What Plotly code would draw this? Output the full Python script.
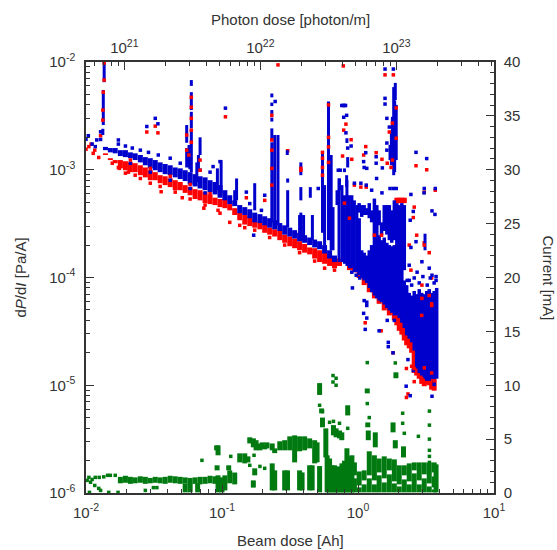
import numpy as np
import plotly.graph_objects as go

# Values. Doses in Ah, dP/dI in 1e-3 Pa/A, current in mA.
band_dose = [.0139,.0151,.0164,.0179,.0195,.0212,.0230,.0251,.0273,.0297,.0323,.0351,.0382,.0416,.0453,.0493,
             .0536,.0583,.0634,.0690,.0751,.0817,.0889,.0967,.105,.114,.124,.135,.147,.160,.174,.190,.206,.224,
             .244,.266,.289,.315,.342,.372,.405,.441,.480,.522,.568,.618,.672]
blue_band_top = [1.63,1.59,1.59,1.52,1.52,1.45,1.42,1.37,1.31,1.28,1.23,1.17,1.13,1.10,1.05,1.03,.99,.95,.91,.87,.85,.80,
                 .77,.72,.646,.58,.52,.47,.45,.43,.40,.387,.37,.355,.34,.32,.305,.29,.275,.26,.247,.235,.225,.217,.20,.179,.16]
blue_band_bottom = [1.52,1.45,1.42,1.34,1.31,1.28,1.23,1.17,1.10,1.03,.99,.95,.91,.89,.85,.82,.785,.73,.70,.67,.646,.62,
                    .59,.55,.52,.48,.46,.395,.38,.355,.325,.32,.305,.29,.28,.27,.25,.24,.23,.217,.21,.20,.19,.183,.167,.15,.139]
red_band_top = [1.42,1.28,1.23,1.23,1.20,1.17,1.15,1.10,1.05,.99,.95,.89,.87,.83,.80,.77,.72,.69,.66,.646,.62,.59,.55,.535,
                .535,.48,.44,.40,.38,.365,.345,.325,.31,.29,.28,.27,.25,.24,.23,.217,.205,.19,.187,.179,.17,.16,.15]
red_band_bottom = [1.37,1.23,1.15,1.03,.99,.95,.95,.89,.85,.80,.80,.75,.72,.69,.646,.646,.61,.58,.535,.52,.49,.48,.47,.45,
                   .44,.42,.38,.34,.31,.30,.29,.28,.26,.25,.24,.222,.21,.195,.187,.179,.17,.164,.15,.139,.134,.128,.122]

red_tail_dose = [.731,.865,.941,1.02,1.11,1.21,1.32,1.43,1.56,1.70,1.85,1.93,2.01,2.10,2.19,2.28,2.38,2.48,2.59,2.70,2.82,
                 2.94,3.07,3.20,3.34,3.48,3.63,1.93,2.01,2.10,2.19]
red_tail_top = [.15,.139,.13,.122,.112,.094,.085,.076,.064,.059,.051,.049,.047,.042,.036,.032,.031,.026,.0235,.021,.017,
                .0137,.013,.012,.0123,.0115,.0115,.55,.55,.55,.55]
red_tail_bottom = [.128,.117,.112,.099,.085,.073,.064,.057,.0495,.0445,.04,.036,.032,.0295,.026,.0235,.022,.02,.013,.0123,
                   .0115,.0103,.0098,.0103,.01,.0091,.0089,.49,.49,.49,.49]

blue_spike_dose = [.0136,.0134,.0133,.055,.055,.0572,.0595,.0595,.0595,.0595,.069,.0671,.0653,.0985,.0925,.128,.124,.174,
                   .2325,.2325,.2325,.2325,.2325,.2325,.244,.258,.304,.304,.302,.38,.38,.38,.372,.398,.446,.462,.548,.568,
                   .607,.635,.655,.701,.725,.762,.795,.829,.865,.902,.941,.981,1.83,1.88,1.79,1.72,1.91,.829,.84,.825,.731,.795,3.11,
                   1.86,1.76]
blue_spike_top = [10,5.5,2.4,2.6,1.59,1.70,6.8,5.25,3.45,2.33,2.0,1.37,1.17,1.23,1.03,.83,.646,.75,
                  5.1,4.2,3.58,3.05,2.42,1.8,2.1,2.1,.83,.646,1.52,1.17,.69,.40,.38,.38,.69,.38,1.45,.72,
                  4.3,1.37,.45,.646,.83,.72,.58,.80,.58,.58,.52,.47,5.85,6.4,3.1,1.70,4.0,1.96,1.31,.89,.83,1.03,.255,
                  4.4,2.3]
blue_spike_bottom = [6.5,2.6,2.1,1.78,1.05,1.05,6.0,3.58,2.42,.95,1.37,.99,.77,.60,.646,.52,.47,.42,
                     4.7,3.9,3.3,2.8,1.89,.325,.325,.305,.76,.29,1.37,.89,.52,.222,.222,.222,.55,.222,.26,.20,
                     .222,.179,.179,.47,.139,.139,.134,.128,.122,.122,.112,.112,.89,4.44,1.23,1.23,1.23,1.77,1.05,.69,.646,.95,.179,
                     .95,1.1]

blue_mass_dose = [1.02,1.02,1.065,1.065,1.11,1.11,1.16,1.16,1.21,1.21,1.26,1.26,1.32,1.375,1.43,1.43,1.49,1.49,1.56,1.56,
                  1.63,1.63,1.70,1.70,1.77,1.77,1.85,1.85,1.93,2.01,2.10,2.19,2.19,2.28,2.38,2.48,2.59,2.70,2.82,2.94,
                  3.07,3.20,3.34,3.48,3.63,3.79]
blue_mass_top = [.49,.355,.47,.179,.47,.17,.44,.16,.49,.179,.42,.20,.54,.47,.42,.247,.325,.222,.47,.235,
                 .47,.21,.47,.20,.42,.195,.52,.2,.49,.47,.49,.47,.094,.085,.072,.068,.075,.07,.078,.072,
                 .07,.075,.078,.072,.075,.08]
blue_mass_bottom = [.40,.105,.365,.099,.38,.094,.38,.089,.355,.08,.325,.073,.068,.064,.305,.061,.247,.059,.27,.056,
                    .25,.052,.222,.0495,.21,.047,.222,.0445,.0445,.042,.038,.117,.034,.029,.027,.025,.021,.0143,.013,.0123,
                    .0115,.011,.011,.0115,.0098,.0115]

blue_point_dose = [.0100,.0104,.0111,.012,.0128,.0117,.0128,.0173,.028,.0323,.0338,.086,.0967,.106,.151,.16,.206,.195,.246,
                   .51,.716,.78,.76,.78,.795,.81,.825,.785,.815,.84,.89,.74,1.14,1.10,1.11,1.16,1.36,1.36,1.51,
                   1.58,1.82,1.58,1.58,1.63,1.70,1.63,1.63,2.67,3.2,1.37,.941,1.05,1.15,1.72,1.82,1.91,3.07,3.7,
                   2.45,2.55,2.42,3.06,3.5,3.68,2.45,2.67,2.38,2.38,2.95,3.5,3.75,1.26,1.5,
                   1.10,1.16,1.16,1.13,1.43,1.64,1.85,1.67,1.67,1.81,2.26,2.42,3.5,2.55,2.33,
                   .90,.97,1.03,.91,1.11,1.16,
                   .0173,.0195,.0219,.0251,.0288,.034,.0416,.0493,.0583,.069,.0817,
                   .0212,.0297,.0416,.0583,.0751,.171,
                   2.3,2.48,2.59,2.82,3.0,3.23,3.4,3.63,3.75,2.72,3.34]
blue_point_value = [1.92,2.07,1.73,1.89,1.91,1.64,2.25,1.89,2.52,3.0,2.67,1.07,1.19,3.73,.62,.485,.58,.42,4.3,
                    .67,.99,10,3.95,3.95,3.95,3.95,3.2,3.07,2.2,1.59,1.66,.99,1.44,1.19,1.05,1.03,1.32,1.15,1.04,
                    8.6,8.6,4.6,4.07,3.0,2.49,1.77,1.52,1.45,1.27,.83,.75,.75,.72,.67,.67,.67,.67,.67,
                    .59,.41,.34,.61,.415,.385,.19,.215,.13,.094,.14,.105,.094,.646,.61,
                    .0465,.055,.042,.033,.032,.04,.04,.025,.0228,.020,.0098,.008,.0079,.0137,.0173,
                    .112,.105,.099,.08,.061,.059,
                    1.73,1.66,1.59,1.52,1.45,1.37,1.28,1.15,1.05,.99,.95,
                    1.15,.95,.80,.67,.61,.247,
                    .094,.085,.099,.089,.102,.085,.099,.089,.102,.112,.122]

red_point_dose = [.0100,.0105,.0109,.0113,.0116,.0124,.0128,.0173,.028,.0323,.0338,.106,.0176,.0205,.023,.0357,.051,.0735,
                  .151,.206,.258,.304,.78,.785,.815,.89,.90,.77,1.14,1.10,1.36,1.5,1.64,1.58,1.82,2.67,3.2,.94,1.05,1.15,3.07,3.7,
                  2.59,2.55,2.7,2.38,3.07,3.34,2.45,3.48,2.3,1.48,1.81,1.13,2.33,2.27,2.27,2.48,2.59,
                  .0156,.0195,.0251,.0297,.0351,.0453,.0583,.0751,.0935,.147,.174,.224,.289,.372,.48,.568,.672,.114,.0967,.135]
red_point_value = [1.55,1.64,1.73,1.42,1.52,1.30,2.07,1.05,2.24,2.54,2.2,3.1,1.03,.95,.89,.625,.55,.44,
                   .55,.52,9.4,1.5,9.2,2.33,2.65,1.9,1.25,1.34,1.64,1.37,1.44,1.25,1.15,7.6,7.6,1.09,1.0,.72,.69,.69,.62,.646,
                   .45,.36,.247,.2,.21,.17,.117,.099,.061,.032,.02,.038,.0083,.0077,.0143,.015,.0108,
                   1.15,.93,.83,.75,.70,.62,.535,.47,.42,.29,.275,.235,.20,.17,.142,.122,.117,.325,.395,.305]

red_top_dose = [.0136,.0136,.0134,.0133,.0133,.0595,.0595,.0595,.0595,.0595,.057,.055,.055,.069,.069,
                .2325,.2325,.2325,.2325,.2325,.548,.548,.548,.548,.607,.607,.607,.607,.38,.38,
                1.91,1.79,1.70,1.91,1.79,1.75,.795,.865,1.32,1.49,3.07,2.95,3.34,3.48,2.95,
                2.94,3.48,2.59,3.07,3.48,3.63,2.94,
                .0212,.0297,.0416,.0583,.0817]
red_top_value = [9.8,6.8,5.25,3.58,2.89,4.7,3.8,3.0,2.33,1.8,1.37,2.1,1.52,1.23,.99,
                 3.2,1.89,1.52,1.03,.72,1.28,1.05,.89,1.45,4.0,2.0,1.63,1.17,.99,1.03,
                 3.75,2.71,2.24,1.96,1.23,1.05,.49,.355,.247,.247,.20,.085,.068,.055,.064,
                 .0445,.057,.0143,.0145,.013,.011,.0115,
                 1.23,1.03,.87,.73,.60]

green_band_dose = [.0179,.0195,.0212,.0230,.0251,.0273,.0297,.0323,.0351,.0382,.0416,.0453,.0493,.0536,.0583,.0634,.0690,.0751,.0817,.0889]
green_band_high = [1.5,1.6,1.5,1.45,1.55,1.5,1.4,1.5,1.45,1.5,1.6,1.55,1.5,1.45,1.4,1.45,1.5,1.5,1.6,1.55]
green_band_low = [.9,.95,.85,.9,.95,.85,.9,.95,.9,.85,.95,.9,.85,.9,.8,.85,.8,.85,.9,.85]

green_span_dose = [.0536,.0583,.0662,.0935,.1,.105,.114,.124,.0913,.0935,.092,.112,.135,.147,.155,.16,.17,.178,.19,.206,.174,.17,
                   .198,.214,.234,.244,.266,.289,.315,.342,.372,.405,.441,.234,.244,.289,.303,.372,.388,.441,.46,.48,.50,.522,
                   .522,.54,.548,.58,.593,.618,.645,.672,.66,.69,.731,.76,.701,.731,.762,.795,.829,.829,.865,.902,
                   .941,.941,1.02,1.02,1.11,1.11,1.21,1.21,1.32,1.32,1.43,1.43,1.56,1.56,1.70,1.70,1.85,1.85,2.01,2.01,
                   2.19,2.19,2.38,2.38,2.59,2.59,2.82,2.82,3.07,3.07,3.34,3.34,3.63,3.63,3.63,3.75,
                   .84,1.17,1.18,1.19,1.34,1.9,1.81,1.88,2.16]
green_span_high = [.9,.9,.9,1.64,1.45,1.64,2.1,1.9,4.42,4.42,2.57,2.57,3.68,3.68,3.4,5.17,5.07,4.9,4.6,4.42,2.29,1.17,
                   4.7,4.7,4.6,4.14,4.8,4.9,5.26,5.35,5.26,5.26,5.07,2.75,2.1,2.1,2.1,2.1,1.91,2.57,2.57,4.9,4.7,2.5,
                   10.2,7.85,7.0,6.0,3.5,3.2,2.57,2.57,6.3,6.0,5.8,5.63,2.38,2.47,2.75,3.0,4.15,2.85,3.4,3.5,
                   2.84,1.36,2.0,.52,2.1,.8,3.87,1.36,3.5,.8,3.2,1.64,3.4,.98,3.2,1.73,3.12,.89,2.57,.61,
                   2.57,1.26,2.75,.8,2.84,1.82,2.84,.8,2.84,1.36,2.84,.61,2.84,1.54,.33,2.66,
                   8.14,9.7,6.55,5.8,5.63,11.2,6.55,4.9,4.33]
green_span_low = [.06,.06,.06,.06,.06,.24,.9,.8,3.96,3.5,2.1,2.1,2.84,2.75,2.84,4.6,4.24,3.96,3.96,4.05,1.64,.5,
                  4.14,4.14,3.96,3.7,3.96,3.96,3.96,2.84,3.87,3.96,4.14,.24,.24,.24,.24,.24,.24,.24,.24,2.75,2.85,.06,
                  9.1,7.4,6.1,3.3,.06,.06,.06,.06,5.35,5.17,5.07,4.9,.06,.06,.06,.06,2.33,.06,.06,.06,
                  1.64,.06,.7,.06,1.17,.06,1.64,.06,1.17,.06,1.91,.06,1.36,.06,2.1,.06,1.08,.06,.8,.06,
                  1.64,.06,1.08,.06,2.1,.06,1.17,.06,1.73,.06,.89,.06,1.91,.52,.06,.06,
                  7.2,9.25,6.1,4.9,4.24,10.65,5.63,4.14,3.3]

green_point_dose = [.0102,.0105,.0111,.0117,.0125,.0135,.0144,.0151,.0164,.0108,.0116,.0124,.0128,.0106,.0172,.0147,
                    .0273,.0313,.0332,.0712,.116,.172,.16,.19,.206,.655,.69,.69,.655,.84,1.17,1.17,1.21,1.88,
                    2.13,2.13,2.19,2.78,3.35,3.35,3.35,3.35,3.35,3.35,.618,.66,.731,.522,.548]
green_point_value = [1.17,1.45,1.26,1.45,1.45,1.5,1.64,1.64,1.64,1.0,.7,.43,.24,.06,.06,.06,
                     .24,.5,.5,3.03,3.4,3.5,2.57,2.47,2.29,10.9,10.65,10.0,10.3,6.0,12.1,8.3,7.0,12.07,
                     7.4,6.47,5.54,5.26,7.6,6.3,5.0,3.96,3.4,2.84,6.56,6.65,6.47,8.14,7.55]

x_tick_values = [0.01, 0.1, 1, 10]
x_tick_labels = ["10<sup>-2</sup>", "10<sup>-1</sup>", "10<sup>0</sup>", "10<sup>1</sup>"]
y_tick_values = [1e-6, 1e-5, 1e-4, 1e-3, 1e-2]
y_tick_labels = ["10<sup>-6</sup>", "10<sup>-5</sup>", "10<sup>-4</sup>", "10<sup>-3</sup>", "10<sup>-2</sup>"]
photon_tick_values = [1e21, 1e22, 1e23]
photon_tick_labels = ["10<sup>21</sup>", "10<sup>22</sup>", "10<sup>23</sup>"]
log_minor_steps = [2, 3, 4, 5, 6, 7, 8, 9]

BLUE, RED, GREEN = "#0000cc", "#ff0000", "#007a10"
MILLI = 1e-3
INK = "#333333"
FONT = "Liberation Sans"


def spans(xs, tops, bottoms, scale=1.0):
    px, py = [], []
    for x, t, b in zip(xs, tops, bottoms, strict=True):
        px += [x, x, None]
        py += [t * scale, b * scale, None]
    return px, py


def span_trace(xs, tops, bottoms, color, width, yaxis="y", scale=1.0):
    px, py = spans(xs, tops, bottoms, scale)
    return go.Scatter(x=px, y=py, mode="lines", yaxis=yaxis, showlegend=False, hoverinfo="skip",
                      line=dict(color=color, width=width))


def point_trace(xs, ys, color, yaxis="y", scale=1.0):
    return go.Scatter(x=xs, y=(np.array(ys, dtype=float) * scale).tolist(), mode="markers", yaxis=yaxis, showlegend=False,
                      cliponaxis=False, hoverinfo="skip",
                      marker=dict(symbol="square", size=3.5, color=color, line=dict(width=0)))


def log_minor(decades):
    return dict(tickvals=[s * d for d in decades for s in log_minor_steps], ticks="inside", ticklen=4,
                tickwidth=1, tickcolor="#333333", showgrid=False)


fig = go.Figure()
fig.add_trace(go.Scatter(x=photon_tick_values, y=[None, None, None], xaxis="x2", yaxis="y", mode="lines", showlegend=False))
fig.add_trace(span_trace(green_band_dose, green_band_high, green_band_low, GREEN, 5, "y2"))
fig.add_trace(span_trace(green_span_dose, green_span_high, green_span_low, GREEN, 5, "y2"))
fig.add_trace(point_trace(green_point_dose, green_point_value, GREEN, "y2"))
fig.add_trace(span_trace(band_dose, red_band_top, red_band_bottom, RED, 5, scale=MILLI))
fig.add_trace(span_trace(red_tail_dose, red_tail_top, red_tail_bottom, RED, 5, scale=MILLI))
fig.add_trace(point_trace(red_point_dose, red_point_value, RED, scale=MILLI))
fig.add_trace(span_trace(band_dose, blue_band_top, blue_band_bottom, BLUE, 5, scale=MILLI))
fig.add_trace(span_trace(blue_spike_dose, blue_spike_top, blue_spike_bottom, BLUE, 3, scale=MILLI))
fig.add_trace(span_trace(blue_mass_dose, blue_mass_top, blue_mass_bottom, BLUE, 3.5, scale=MILLI))
fig.add_trace(point_trace(blue_point_dose, blue_point_value, BLUE, scale=MILLI))
fig.add_trace(point_trace(red_top_dose, red_top_value, RED, scale=MILLI))

axis_style = dict(showgrid=False, zeroline=False, showline=True, linecolor="#333333", linewidth=1.5,
                  ticks="inside", ticklen=8, tickwidth=1, tickcolor="#333333",
                  tickfont=dict(family=FONT, size=15, color=INK))
title_font = dict(family=FONT, size=15, color=INK)

fig.update_layout(
    width=557, height=550, autosize=False, showlegend=False,
    paper_bgcolor="white", plot_bgcolor="white",
    margin=dict(l=85.5, r=62.5, t=62, b=57.4, pad=0),
    xaxis=dict(type="log", range=[-2, 1], tickvals=x_tick_values, ticktext=x_tick_labels, side="bottom", anchor="y",
               ticklabelstandoff=5, minor=log_minor([0.01, 0.1, 1]), **axis_style),
    xaxis2=dict(type="log", range=[20.718, 23.718], tickvals=photon_tick_values, ticktext=photon_tick_labels, side="top",
                overlaying="x", anchor="y", ticklabelstandoff=1, minor=log_minor([1e20, 1e21, 1e22, 1e23]), **axis_style),
    yaxis=dict(type="log", range=[-6, -2], tickvals=y_tick_values, ticktext=y_tick_labels, side="left", anchor="x",
               ticklabelstandoff=6, minor=log_minor([1e-6, 1e-5, 1e-4, 1e-3]), **axis_style),
    yaxis2=dict(type="linear", range=[0, 40], tick0=0, dtick=5, side="right", overlaying="y", anchor="x",
                ticklabelstandoff=5,
                minor=dict(dtick=1, ticks="inside", ticklen=4, tickwidth=1, tickcolor="#333333", showgrid=False), **axis_style),
    annotations=[
        dict(text="Photon dose [photon/m]", x=0.5, y=1, xref="paper", yref="paper", xanchor="center", yanchor="bottom", yshift=32, showarrow=False, font=title_font),
        dict(text="Beam dose [Ah]", x=0.5, y=0, xref="paper", yref="paper", xanchor="center", yanchor="top", yshift=-37, showarrow=False, font=title_font),
        dict(text="d<i>P</i>/d<i>I</i> [Pa/A]", x=0, y=0.5, xref="paper", yref="paper", xanchor="center", yanchor="middle", xshift=-66, textangle=-90, showarrow=False, font=title_font),
        dict(text="Current [mA]", x=1, y=0.5, xref="paper", yref="paper", xanchor="center", yanchor="middle", xshift=54, textangle=90, showarrow=False, font=title_font),
    ],
)

fig.write_html("out.html", config={"displayModeBar": False}, post_script="document.body.style.margin='0';")
